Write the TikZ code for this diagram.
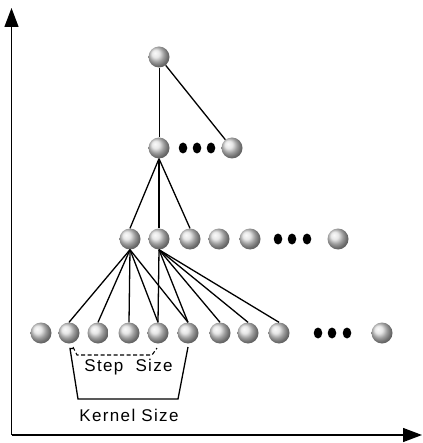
\documentclass[tikz,border=0pt]{standalone}
\usepackage{fontspec}
\newfontfamily\lblfont[LetterSpace=8]{Liberation Sans}
\usetikzlibrary{arrows.meta,shapes.geometric}
\begin{document}
\begin{tikzpicture}[x=1pt,y=-1pt,
  ball/.style={circle,minimum size=21pt,inner sep=0pt,shading=ball,ball color=gray!25},
  dotnode/.style={ellipse,fill=black,minimum width=8.5pt,minimum height=11pt,inner sep=0pt},
  edge/.style={line width=1.3pt},
  axis/.style={line width=1.3pt,-{Triangle[length=19pt,width=14pt]}},
  lbl/.style={font=\lblfont\fontsize{17}{20}\selectfont,inner sep=0pt}]
\useasboundingbox (0,0) rectangle (422,443);
% axes
\coordinate (o) at (11.5,435);
\coordinate (ytip) at (11.5,8);
\coordinate (xtip) at (422,435);
\draw[axis] (o) -- (ytip);
\draw[axis] (o) -- (xtip);
% level 1
\node[ball] (t) at (159,57) {};
% level 2
\node[ball] (a1) at (159,148) {};
\node[dotnode] (da1) at (183,148) {};
\node[dotnode] (da2) at (197,148) {};
\node[dotnode] (da3) at (211,148) {};
\node[ball] (a2) at (232,148) {};
% level 3
\foreach \x/\n in {130/b1,159/b2,190/b3,219/b4,250/b5,338/b6}
  \node[ball] (\n) at (\x,239) {};
\foreach \x/\n in {278/db1,292/db2,307/db3}
  \node[dotnode] (\n) at (\x,239) {};
% level 4
\foreach \x/\n in {41/c1,69/c2,98/c3,129/c4,158/c5,188/c6,220/c7,248/c8,279/c9,382/c10}
  \node[ball] (\n) at (\x,333) {};
\foreach \x/\n in {318/dc1,332/dc2,347/dc3}
  \node[dotnode] (\n) at (\x,333) {};
% edges
\draw[line width=0.9pt] (t.south) -- (a1.north);
\draw[edge] (t) -- (a2);
\foreach \n in {b1,b2,b3} \draw[edge] (a1.south) -- (\n.north);
\foreach \n in {c2,c3,c4,c5,c6} \draw[edge] (b1.south) -- (\n.north);
\foreach \n in {c5,c6,c7,c8,c9} \draw[edge] (b2.south) -- (\n.north);
% step size bracket
\draw[line width=1.1pt,dash pattern=on 4pt off 2.5pt] (73,347) -- (77,355) -- (152,355) -- (157,348);
% kernel size bracket
\draw[line width=1.3pt] (73.5,348.5) -- (70,348.5) -- (78,399) -- (178,399) -- (188,347);
% labels
\node[lbl] (step) at (128.5,367) {Step\ \ Size};
\node[lbl] (kern) at (129,415.5) {Kernel\ Size};
\end{tikzpicture}
\end{document}
